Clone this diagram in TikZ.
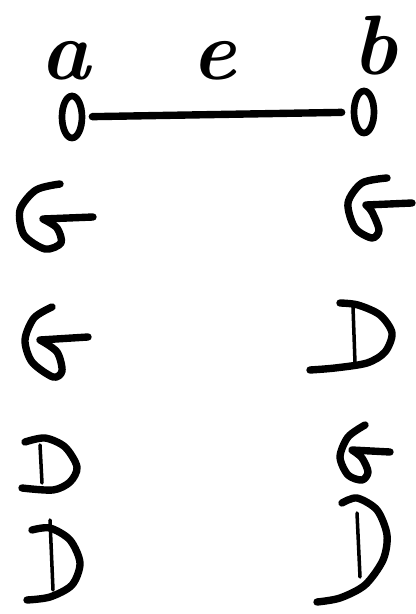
\documentclass[tikz,border=0pt]{standalone}
\usepackage{tikz}
\usetikzlibrary{shapes.geometric}

\begin{document}
\begin{tikzpicture}[x=0.02cm, y=-0.02cm]
\tikzstyle{penline} = [line width=4.2pt, line cap=round, line join=round]
\tikzstyle{hairline} = [line width=2pt, line cap=round]
\tikzstyle{vertex} = [ellipse, draw, line width=3.8pt, minimum width=0.4cm, minimum height=0.84cm, inner sep=0pt]
\tikzstyle{label} = [font=\fontsize{48}{48}\selectfont\bfseries\itshape, anchor=base, inner sep=0pt]
\useasboundingbox (0,0) rectangle (415,614);

% the edge
\node (la) [label] at (65,80) {a};
\node (le) [label] at (214,80) {e};
\node (lb) [label] at (375,75) {b};
\node (va) [vertex] at (72,117) {};
\node (vb) [vertex] at (364,112) {};
\draw [penline, shorten <=0.14cm, shorten >=0.18cm] (va) -- (vb);

% G shapes
\draw [penline] plot[smooth] coordinates {(60,184) (36,190) (20,210) (24,235) (45,249) (61,243) (57,228) (43,219)} -- (93,217);
\draw [penline] plot[smooth] coordinates {(387,178) (362,183) (348,203) (355,228) (372,238) (379,230) (372,212) (366,205)} -- (412,203);
\draw [penline] plot[smooth] coordinates {(52,307) (34,318) (25,340) (32,362) (53,377) (62,371) (57,352) (40,340)} -- (88,337);
\draw [penline] plot[smooth] coordinates {(365,425) (348,437) (340,457) (348,475) (362,480) (368,472) (362,458) (352,450)} -- (390,452);

% D shapes
\draw [penline] plot[smooth] coordinates {(340,303) (358,305) (380,315) (392,333) (385,352) (367,363) (335,368) (310,370)};
\draw [hairline] (353,307) -- (355,363);
\draw [penline] plot[smooth] coordinates {(25,442) (45,438) (65,447) (77,467) (70,482) (53,490) (22,488)};
\draw [hairline] (40,445) -- (42,483);
\draw [penline] plot[smooth] coordinates {(32,530) (50,528) (70,540) (80,563) (72,585) (50,597) (27,600)};
\draw [hairline] (50,520) -- (53,590);
\draw [penline] plot[smooth] coordinates {(342,503) (357,498) (377,510) (387,535) (383,560) (365,585) (340,598) (317,602)};
\draw [hairline] (357,513) -- (360,577);
\end{tikzpicture}
\end{document}
